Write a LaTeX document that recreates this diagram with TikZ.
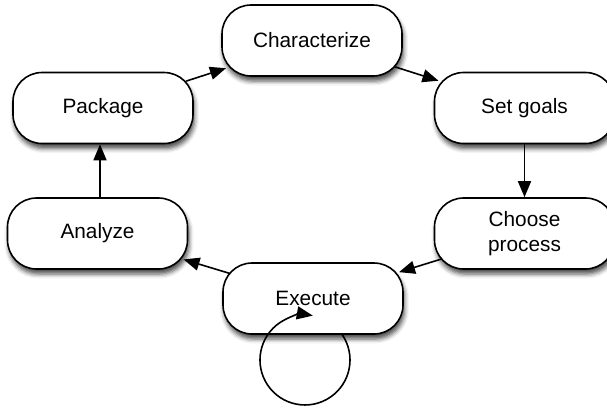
\documentclass[tikz,border=0pt]{standalone}
\usepackage{fontspec}
\setmainfont{Liberation Sans}
\usetikzlibrary{arrows.meta,shadows.blur}

\tikzset{
  phase/.style={
    draw=black, line width=1.6pt, fill=white, rounded corners=29pt,
    minimum width=180pt, minimum height=71pt, inner sep=0pt,
    align=center, font=\fontsize{20.8}{25}\selectfont,
    blur shadow={shadow xshift=1.5pt, shadow yshift=-5pt,
                 shadow blur radius=4.5pt, shadow opacity=70}
  },
  flow/.style={
    line width=1.6pt, draw=black,
    -{Triangle[length=16pt,width=13pt]}
  },
  % the rounded corners sit inside the node rectangles, so diagonal
  % connectors reach a little past the rectangle border
  reach/.style={shorten <=-8pt, shorten >=-5pt}
}

\begin{document}
\begin{tikzpicture}[x=1pt, y=-1pt]
  \useasboundingbox (0,0) rectangle (607,407);

  % the six phases of the cycle
  \node[phase] (char)   at (312,40.5)   {Characterize};
  \node[phase] (set)    at (524.5,108)  {Set goals};
  \node[phase] (choose) at (524.5,233.5){Choose\\process};
  \node[phase] (exe)    at (313,298.5)  {Execute};
  \node[phase] (ana)    at (97.5,233.5) {Analyze};
  \node[phase] (pkg)    at (103,108)    {Package};

  % transitions around the cycle
  \draw[flow,reach] (pkg) -- (char);
  \draw[flow,reach] (char) -- (set);
  \draw[flow] (set) -- (choose);
  \draw[flow,reach] (choose) -- (exe);
  \draw[flow,reach] (exe) -- (ana);
  \draw[flow] ([xshift=2.5pt]ana.north) -- ([xshift=-3pt]pkg.south);

  % repeated execution loop
  \draw[flow] ([xshift=29.3pt]exe.south) arc[start angle=34, end angle=-280, radius=45pt];
\end{tikzpicture}
\end{document}
